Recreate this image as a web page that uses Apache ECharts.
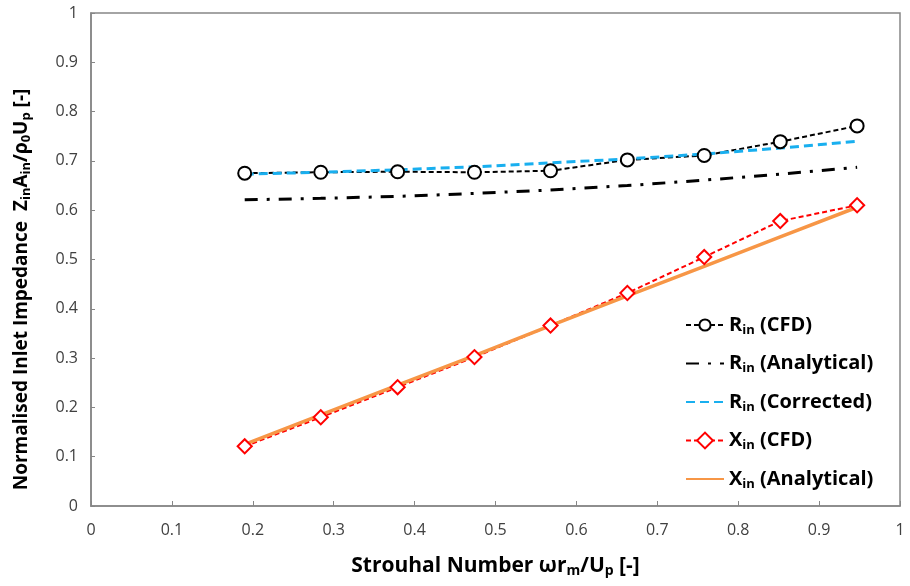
<!DOCTYPE html>
<html><head><meta charset="utf-8">
<script src="https://cdn.jsdelivr.net/npm/echarts@6/dist/echarts.min.js"></script>
<style>html,body{margin:0;padding:0;background:#fff}#c{width:910px;height:586px}</style>
</head><body><div id="c"></div>
<script>
const strouhal = [0.19, 0.284, 0.379, 0.474, 0.568, 0.663, 0.758, 0.852, 0.947];
const rinCFD = [0.675, 0.677, 0.678, 0.677, 0.680, 0.702, 0.711, 0.739, 0.771];
const rinAnalytical = [0.621, 0.624, 0.628, 0.634, 0.641, 0.650, 0.661, 0.673, 0.687];
const rinCorrected = [0.673, 0.677, 0.682, 0.688, 0.696, 0.704, 0.714, 0.726, 0.740];
const xinCFD = [0.121, 0.180, 0.241, 0.302, 0.366, 0.432, 0.505, 0.578, 0.610];
const xinAnalytical = [0.125, 0.185, 0.245, 0.305, 0.366, 0.426, 0.486, 0.546, 0.606];
const seriesNames = ['Rin (CFD)', 'Rin (Analytical)', 'Rin (Corrected)', 'Xin (CFD)', 'Xin (Analytical)'];
const legendLabels = {
  'Rin (CFD)': '{b|R}{s|in}{b| (CFD)}',
  'Rin (Analytical)': '{b|R}{s|in}{b| (Analytical)}',
  'Rin (Corrected)': '{b|R}{s|in}{b| (Corrected)}',
  'Xin (CFD)': '{b|X}{s|in}{b| (CFD)}',
  'Xin (Analytical)': '{b|X}{s|in}{b| (Analytical)}'
};
const pair = ys => strouhal.map((x, i) => [x, ys[i]]);
const FONT = 'Open Sans';
const mkRich = (big, small, drop) => ({
  b: {fontSize: big, fontWeight: 'bold', fontFamily: FONT, color: '#000'},
  s: {fontSize: small, fontWeight: 'bold', fontFamily: FONT, color: '#000', verticalAlign: 'bottom', padding: [drop, 0, 0, 0]}
});
const chart = echarts.init(document.getElementById('c'), null, {renderer: 'canvas'});
chart.setOption({
  animation: false,
  backgroundColor: '#fff',
  grid: {left: 91, right: 10, top: 13, bottom: 80, containLabel: false,
    show: true, borderColor: '#868686', borderWidth: 1.5, backgroundColor: 'transparent'},
  xAxis: {
    type: 'value', min: 0, max: 1, interval: 0.1,
    axisLine: {lineStyle: {color: '#868686', width: 1.5}},
    axisTick: {show: true, inside: true, length: 5, lineStyle: {color: '#868686'}},
    splitLine: {show: false},
    axisLabel: {fontSize: 16, fontFamily: FONT, color: '#404040', margin: 16,
      formatter: v => String(Math.round(v * 10) / 10)},
    name: '{b|Strouhal Number ωr}{s|m}{b|/U}{s|p}{b| [-]}',
    nameLocation: 'middle', nameGap: 48,
    nameTextStyle: {rich: mkRich(21, 14, 10)}
  },
  yAxis: {
    type: 'value', min: 0, max: 1, interval: 0.1,
    axisLine: {show: true, lineStyle: {color: '#868686', width: 1.5}},
    axisTick: {show: true, inside: true, length: 4, lineStyle: {color: '#868686'}},
    splitLine: {show: false},
    axisLabel: {fontSize: 16, fontFamily: FONT, color: '#404040', margin: 13,
      formatter: v => String(Math.round(v * 10) / 10)},
    name: '{b|Normalised Inlet Impedance  Z}{s|in}{b|A}{s|in}{b|/ρ}{s|0}{b|U}{s|p}{b| [-]}',
    nameLocation: 'middle', nameGap: 58,
    nameTextStyle: {rich: mkRich(19, 13, 9), padding: [0, 60, 0, 0]}
  },
  legend: {
    orient: 'vertical', left: 680, top: 310, itemGap: 17,
    itemWidth: 38, itemHeight: 14,
    data: [
      {name: seriesNames[0]},
      {name: seriesNames[1], itemStyle: {opacity: 0}},
      {name: seriesNames[2], itemStyle: {opacity: 0}},
      {name: seriesNames[3]},
      {name: seriesNames[4], itemStyle: {opacity: 0}}
    ],
    formatter: n => legendLabels[n],
    textStyle: {rich: mkRich(20, 13, 10)}
  },
  series: [
    {name: seriesNames[0], type: 'line', data: pair(rinCFD), symbol: 'circle', symbolSize: 13,
      itemStyle: {color: '#fff', borderColor: '#000', borderWidth: 2},
      lineStyle: {color: '#000', width: 2, type: [5, 3]}, color: '#000'},
    {name: seriesNames[1], type: 'line', data: pair(rinAnalytical), symbol: 'none', showSymbol: false,
      lineStyle: {color: '#000', width: 3, type: [13, 9, 3, 9]}, color: '#000', itemStyle: {color: '#000'}},
    {name: seriesNames[2], type: 'line', data: pair(rinCorrected), symbol: 'none', showSymbol: false,
      lineStyle: {color: '#19AFEF', width: 3, type: [9, 5]}, color: '#19AFEF', itemStyle: {color: '#19AFEF'}},
    {name: seriesNames[3], type: 'line', data: pair(xinCFD), symbol: 'rect', symbolSize: 10, symbolRotate: 45,
      itemStyle: {color: '#fff', borderColor: '#FF0000', borderWidth: 2},
      lineStyle: {color: '#FF0000', width: 2, type: [5, 3]}, color: '#FF0000'},
    {name: seriesNames[4], type: 'line', data: pair(xinAnalytical), symbol: 'none', showSymbol: false,
      lineStyle: {color: '#F79646', width: 3.5, type: 'solid'}, color: '#F79646', itemStyle: {color: '#F79646'}}
  ]
});
</script></body></html>
